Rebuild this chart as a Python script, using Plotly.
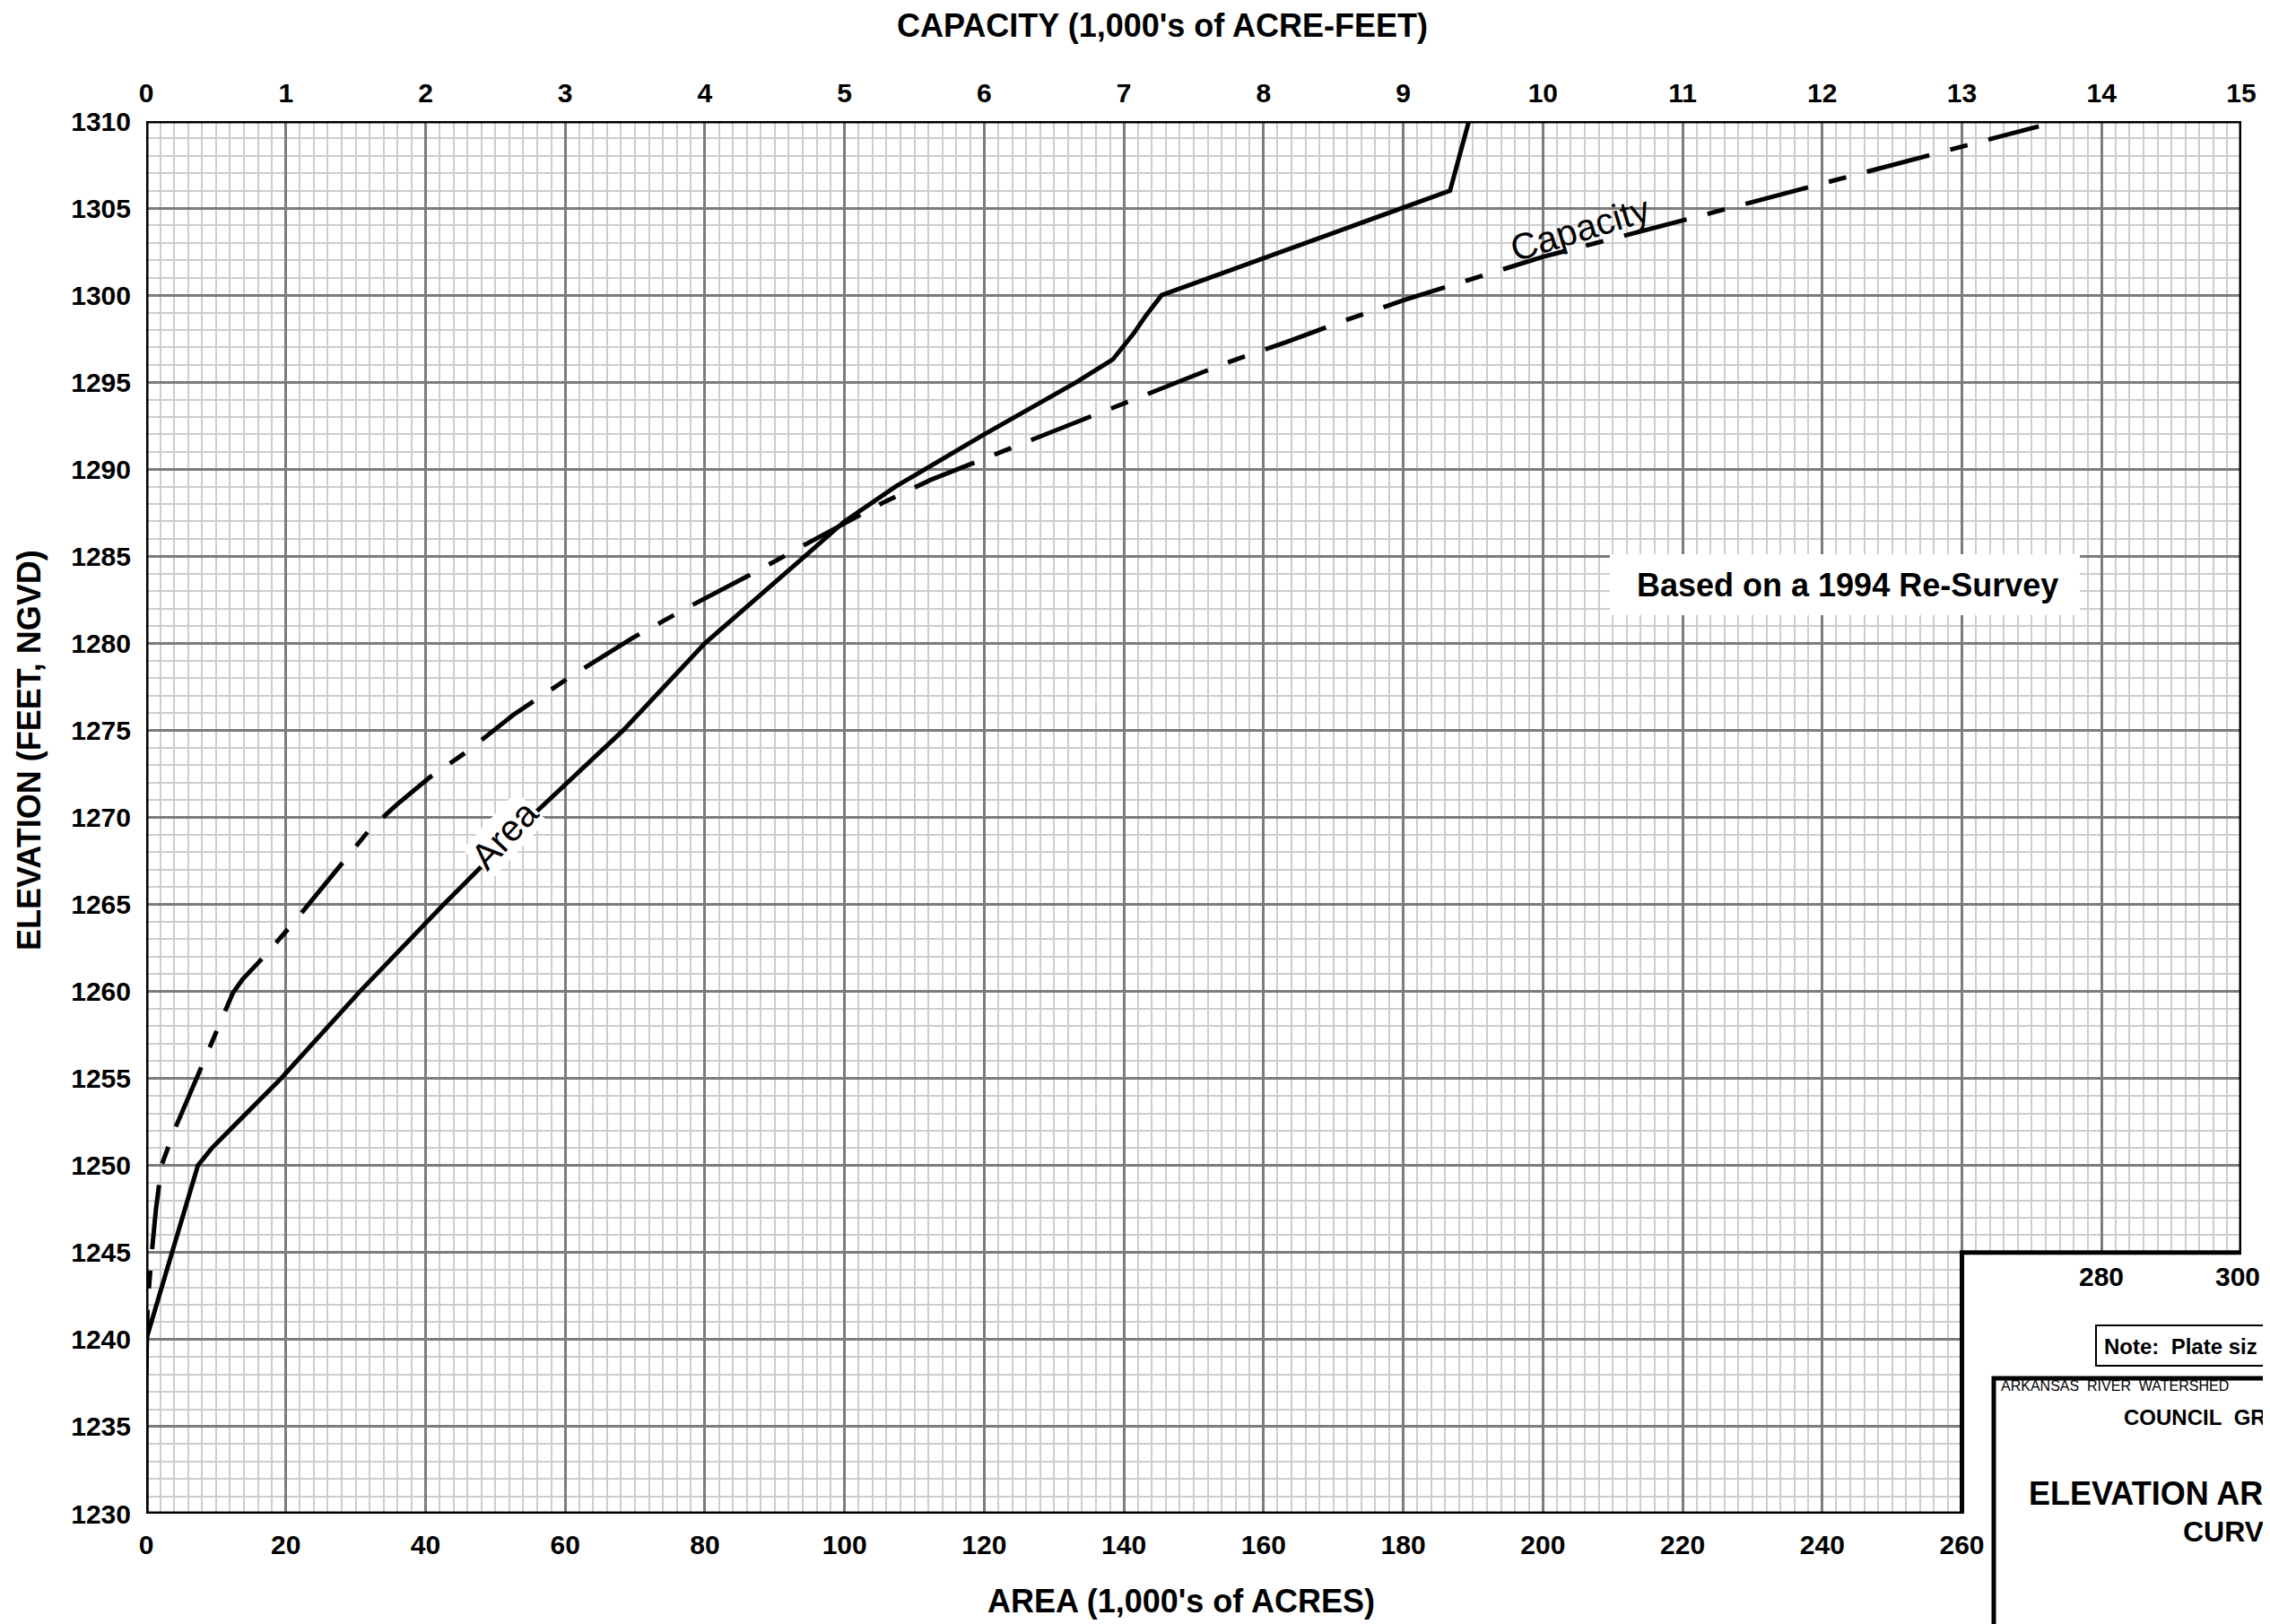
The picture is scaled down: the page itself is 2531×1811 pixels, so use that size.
import plotly.graph_objects as go

# ---------------- data ----------------
ELEVATION_TICKS = list(range(1230, 1311, 5))
AREA_TICKS = list(range(0, 301, 20))
CAPACITY_TICKS = list(range(0, 16))

# Area curve (1,000's of acres) vs elevation (ft)
AREA_ELEV = [1230, 1240, 1250, 1251, 1255, 1260, 1265, 1270, 1275, 1280, 1285,
             1287, 1289, 1292, 1295, 1296, 1296.3, 1297.8, 1298.8, 1300, 1306, 1310]
AREA_VAL = [0.0, 0.0, 7.4, 9.4, 19.3, 30.6, 42.6, 55.0, 68.3, 80.0, 94.3,
            100.0, 107.3, 120.0, 133.2, 137.3, 138.4, 141.4, 143.1, 145.4, 186.7, 189.4]

# Capacity curve (1,000's of acre-feet) vs elevation (ft)
CAP_ELEV = [1238, 1242, 1245, 1247.5, 1250, 1252, 1255, 1257.2, 1259.9, 1260.7,
            1261.8, 1263.9, 1267.4, 1269.3, 1270.7, 1272.3, 1273.8, 1275.9, 1278.2,
            1280.3, 1282.2, 1284.0, 1285.9, 1288.1, 1289.4, 1290.7, 1292.05, 1293.4,
            1294.8, 1296.1, 1297.3, 1298.6, 1299.7, 1302.2, 1304.5, 1306.4, 1308.1,
            1309.7]
CAP_VAL = [0.0, 0.01, 0.04, 0.07, 0.11, 0.2, 0.36, 0.48, 0.62, 0.69,
           0.82, 1.05, 1.41, 1.6, 1.79, 2.03, 2.3, 2.63, 3.06,
           3.48, 3.91, 4.34, 4.77, 5.28, 5.62, 6.03, 6.47, 6.88,
           7.32, 7.73, 8.16, 8.6, 9.0, 10.0, 11.1, 12.0, 12.8,
           13.55]

# ---------------- layout helpers ----------------
PAGE_W, PAGE_H = 2531, 1811
OFF = 8                      # default body margin of the html page
W, H = PAGE_W - OFF, PAGE_H - OFF
# plot area in page pixels: left 163, right 2499, top 135, bottom 1688
L = 163 - OFF
T = 135 - OFF
R = W - (2499 - OFF)
B = H - (1688 - OFF)
PW, PH = W - L - R, H - T - B


def px_x(px):
    """page pixel x -> paper coordinate"""
    return (px - OFF - L) / PW


def px_y(py):
    """page pixel y -> paper coordinate"""
    return (H - B - (py - OFF)) / PH


FONT = "Liberation Sans, Arial, Helvetica, sans-serif"
tickfont = dict(family=FONT, size=30, color="black", weight="bold")
MAJOR = "#7c7c7c"
MINOR = "#cdcdcd"

fig = go.Figure()
fig.add_trace(go.Scatter(x=AREA_VAL, y=AREA_ELEV, mode="lines", xaxis="x", yaxis="y",
                         line=dict(color="black", width=5), showlegend=False,
                         hoverinfo="skip"))
fig.add_trace(go.Scatter(x=CAP_VAL, y=CAP_ELEV, mode="lines", xaxis="x2", yaxis="y",
                         line=dict(color="black", width=5, dash="72px,24px,20px,24px"),
                         showlegend=False, hoverinfo="skip"))

fig.update_layout(
    width=W, height=H,
    margin=dict(l=L, r=R, t=T, b=B, pad=0),
    paper_bgcolor="white", plot_bgcolor="white",
    font=dict(family=FONT, color="black"),
    xaxis=dict(range=[0, 300], tickmode="array", tickvals=AREA_TICKS,
               ticktext=[str(v) if v <= 260 else "" for v in AREA_TICKS],
               showgrid=True, gridcolor=MAJOR, gridwidth=2.5,
               minor=dict(tickmode="linear", tick0=0, dtick=2, showgrid=True,
                          gridcolor=MINOR, gridwidth=1.5),
               zeroline=False, showline=False, ticks="", tickfont=tickfont,
               ticklabelstandoff=14, fixedrange=True),
    xaxis2=dict(range=[0, 15], overlaying="x", side="top", tickmode="array",
                tickvals=CAPACITY_TICKS, showgrid=False, zeroline=False,
                showline=False, ticks="", tickfont=tickfont, ticklabelstandoff=14,
                fixedrange=True),
    yaxis=dict(range=[1230, 1310], tickmode="array", tickvals=ELEVATION_TICKS,
               showgrid=True, gridcolor=MAJOR, gridwidth=2.5,
               minor=dict(tickmode="linear", tick0=1230, dtick=1, showgrid=True,
                          gridcolor=MINOR, gridwidth=1.5),
               zeroline=False, showline=False, ticks="", tickfont=tickfont,
               ticklabelstandoff=16, fixedrange=True),
)

shapes = [
    # blank notch at lower right of the grid
    dict(type="rect", xref="x", yref="y", x0=260, x1=302, y0=1229.7, y1=1245,
         fillcolor="white", line=dict(width=0), layer="above"),
    # heavy border of the grid
    dict(type="path", xref="x", yref="y",
         path="M 0,1230 L 0,1310 L 300,1310 L 300,1245 L 260,1245 L 260,1230 Z",
         line=dict(color="black", width=5), layer="above"),
    # white box behind the survey note
    dict(type="rect", xref="paper", yref="paper",
         x0=px_x(1795), x1=px_x(2319), y0=px_y(686), y1=px_y(618),
         fillcolor="white", line=dict(width=0), layer="above"),
    # plate-size note box (runs past the right edge)
    dict(type="rect", xref="paper", yref="paper",
         x0=px_x(2337), x1=px_x(2560), y0=px_y(1523), y1=px_y(1478),
         fillcolor="white", line=dict(color="black", width=2), layer="above"),
    # title block border
    dict(type="path", xref="paper", yref="paper",
         path=f"M {px_x(2223)},{px_y(1840)} L {px_x(2223)},{px_y(1537)} L {px_x(2560)},{px_y(1537)}",
         line=dict(color="black", width=5), layer="above"),
]
fig.update_layout(shapes=shapes)

nb = "\u00a0"
ann = [
    dict(text="CAPACITY (1,000's of ACRE-FEET)", xref="paper", yref="paper",
         x=px_x(1296), y=px_y(29), xanchor="center", yanchor="middle", showarrow=False,
         font=dict(family=FONT, size=36, weight="bold")),
    dict(text="AREA (1,000's of ACRES)", xref="paper", yref="paper",
         x=px_x(1317), y=px_y(1785), xanchor="center", yanchor="middle", showarrow=False,
         font=dict(family=FONT, size=36, weight="bold")),
    dict(text="ELEVATION (FEET, NGVD)", xref="paper", yref="paper", textangle=-90,
         x=px_x(33), y=px_y(837), xanchor="center", yanchor="middle", showarrow=False,
         font=dict(family=FONT, size=36, weight="bold")),
    dict(text="Based on a 1994 Re-Survey", xref="paper", yref="paper",
         x=px_x(2060), y=px_y(652), xanchor="center", yanchor="middle",
         showarrow=False, font=dict(family=FONT, size=36, weight="bold")),
    dict(text="Area", xref="x", yref="y", x=51.3, y=1269.0, textangle=-47,
         xanchor="center", yanchor="middle", showarrow=False, bgcolor="white",
         borderpad=0, font=dict(family=FONT, size=41)),
    dict(text="Capacity", xref="x2", yref="y", x=10.27, y=1303.8, textangle=-17,
         xanchor="center", yanchor="middle", showarrow=False,
         font=dict(family=FONT, size=41)),
]
for v in AREA_TICKS:
    if v > 260:
        ann.append(dict(text=str(v), xref="x", yref="y", x=v, y=1243.6,
                        xshift=-4 if v == 300 else 0,
                        xanchor="center", yanchor="middle", showarrow=False,
                        font=tickfont))
ann += [
    dict(text=f"Note:{nb}{nb}Plate{nb}siz", xref="paper", yref="paper",
         x=px_x(2344), y=px_y(1501), xanchor="left", yanchor="middle", showarrow=False,
         font=dict(family=FONT, size=24, weight="bold")),
    dict(text=f"ARKANSAS{nb}{nb}RIVER{nb}{nb}WATERSHED", xref="paper", yref="paper",
         x=px_x(2229), y=px_y(1545), xanchor="left", yanchor="middle", showarrow=False,
         font=dict(family=FONT, size=16)),
    dict(text=f"COUNCIL{nb}{nb}GR", xref="paper", yref="paper",
         x=px_x(2366), y=px_y(1580), xanchor="left", yanchor="middle", showarrow=False,
         font=dict(family=FONT, size=24, weight="bold")),
    dict(text="ELEVATION AR", xref="paper", yref="paper",
         x=px_x(2260), y=px_y(1665), xanchor="left", yanchor="middle", showarrow=False,
         font=dict(family=FONT, size=36, weight="bold")),
    dict(text="CURV", xref="paper", yref="paper",
         x=px_x(2432), y=px_y(1708), xanchor="left", yanchor="middle", showarrow=False,
         font=dict(family=FONT, size=32, weight="bold")),
]
fig.update_layout(annotations=ann)

fig.write_html("out.html")
